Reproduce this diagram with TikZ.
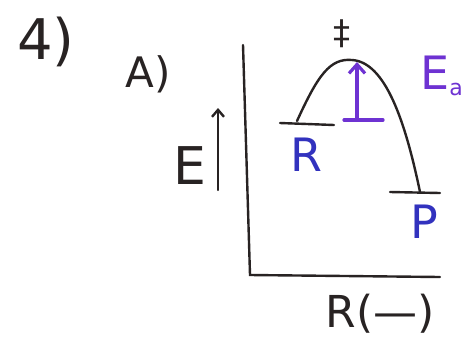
\documentclass[tikz,border=0pt]{standalone}
\usepackage{fontspec}
\setmainfont{DejaVu Sans}
\usetikzlibrary{arrows.meta}
\definecolor{ink}{RGB}{40,35,35}
\definecolor{purp}{RGB}{110,50,210}
\definecolor{blu}{RGB}{50,50,190}
\tikzset{
  pen/.style={draw=ink, line width=2.4pt, line cap=round},
  ppen/.style={draw=purp, line width=3.2pt, line cap=round},
  lbl/.style={inner sep=0pt, font=\fontsize{46}{46}\selectfont},
}
\begin{document}
\begin{tikzpicture}[x=1pt,y=-1pt]
\useasboundingbox (0,0) rectangle (470,351);
% labels
\node[lbl, text=ink, font=\fontsize{56}{56}\selectfont] (q) at (46,42) {4)};
\node[lbl, text=ink, font=\fontsize{42}{42}\selectfont] (a) at (148,74) {A)};
\node[lbl, text=ink, font=\fontsize{52}{52}\selectfont] (E) at (190,166) {E};
\coordinate (eb) at (218,190);
\coordinate (et) at (218,108);
\draw[pen, -{Straight Barb[length=7pt,width=12pt]}] (eb) -- (et);
% axes
\coordinate (ytop) at (243,45);
\coordinate (orig) at (250,275);
\coordinate (xend) at (440,277);
\draw[pen] (ytop) -- (orig) -- (xend);
\node[lbl, text=ink, font=\fontsize{44}{44}\selectfont] (rc) at (380,314) {R(—)};
% curve and levels
\coordinate (r1) at (280,123);
\coordinate (r2) at (334,125);
\coordinate (rs) at (297,121);
\coordinate (pk) at (352,60);
\coordinate (pe) at (420,192);
\coordinate (p1) at (390,192);
\coordinate (p2) at (440,193);
\draw[pen] (r1) -- (r2);
\draw[pen] (p1) -- (p2);
\draw[pen] (rs) .. controls (318,75) and (330,58) .. (pk) .. controls (385,62) and (405,120) .. (pe);
\node[lbl, text=ink, font=\fontsize{34}{34}\selectfont] (ts) at (342,34) {‡};
% activation energy
\coordinate (ab) at (357,120);
\coordinate (at) at (357,62);
\coordinate (bl) at (344,120);
\coordinate (br) at (383,120);
\draw[ppen] (bl) -- (br);
\draw[ppen, -{Straight Barb[length=9pt,width=16pt]}] (ab) -- (at);
\node[lbl, text=purp, anchor=west] (ea) at (420,76) {E\raisebox{-6pt}{\fontsize{22}{22}\selectfont a}};
\node[lbl, text=blu] (R) at (306,155) {R};
\node[lbl, text=blu] (P) at (424,222) {P};
\end{tikzpicture}
\end{document}
